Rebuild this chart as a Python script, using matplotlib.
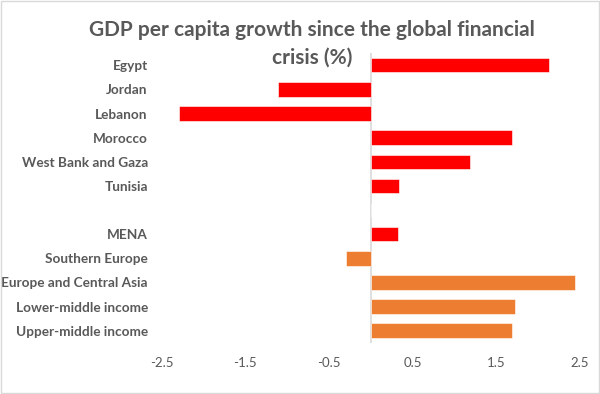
import matplotlib.pyplot as plt
import numpy as np

# Dane do wykresu
categories = ['Egypt', 'Jordan', 'Lebanon', 'Morocco', 'West Bank and Gaza', 'Tunisia',
              '', 'MENA', 'Southern Europe', 'Europe and Central Asia',
              'Lower-middle income', 'Upper-middle income']
values = [2.13, -1.11, -2.29, 1.69, 1.19, 0.34,
          np.nan, 0.32, -0.30, 2.44, 1.72, 1.69]
groups = ['mena'] * 6 + [''] + ['mena', 'other', 'other', 'other', 'other']
ticks = [-2.5, -1.5, -0.5, 0.5, 1.5, 2.5]
title_lines = ['GDP per capita growth since the global financial', 'crisis (%)']

colors = {'mena': '#FF0000', 'other': '#ED7D31', '': 'none'}
grey = '#595959'

plt.rcParams['font.family'] = ['Lato', 'DejaVu Sans']

fig = plt.figure(figsize=(6, 3.94), dpi=100)
ax = fig.add_axes([0.2695, 0.130, 0.697, 0.735])

y = np.arange(len(categories))
ax.barh(y, np.nan_to_num(values), height=0.6,
        color=[colors[g] for g in groups],
        edgecolor='white', linewidth=0.4)
ax.axvline(0, color='#D9D9D9', linewidth=1.2, zorder=0)

ax.set_xlim(-2.5, 2.5)
ax.set_ylim(len(categories) - 0.5, -0.5)
ax.set_xticks(ticks)
ax.set_xticklabels([str(t) for t in ticks], color=grey, fontsize=9.5)
ax.set_yticks(y)
ax.set_yticklabels(categories, color=grey, fontsize=9.8, fontweight='bold')
ax.tick_params(axis='both', length=0)
ax.tick_params(axis='y', pad=10)
ax.tick_params(axis='x', pad=10)
for s in ax.spines.values():
    s.set_visible(False)

# tytuł w dwóch liniach
fig.text(0.52, 0.948, title_lines[0], ha='center', va='top',
         fontsize=15, fontweight='bold', color=grey)
fig.text(0.52, 0.880, title_lines[1], ha='center', va='top',
         fontsize=15, fontweight='bold', color=grey)

# ramka wokół wykresu
fig.patches.append(plt.Rectangle((0.002, 0.002), 0.996, 0.995, transform=fig.transFigure,
                                 fill=False, edgecolor='#D9D9D9', linewidth=1))

plt.savefig('out.png', dpi=100)
